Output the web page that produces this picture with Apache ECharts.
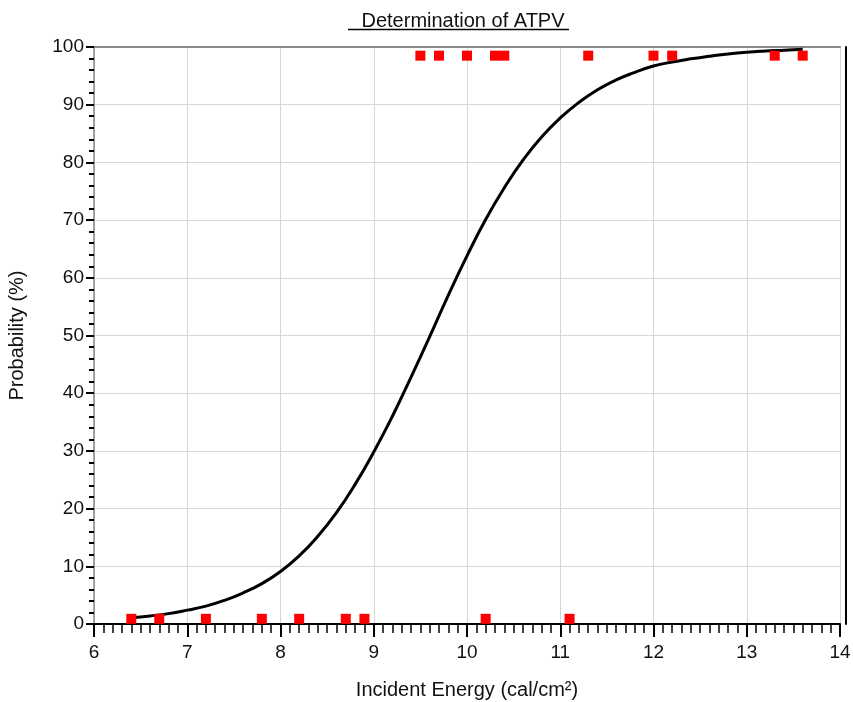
<!DOCTYPE html>
<html>
<head>
<meta charset="utf-8">
<script src="https://cdn.jsdelivr.net/npm/echarts@6/dist/echarts.min.js"></script>
<style>
  html, body { margin: 0; padding: 0; background: #fff; }
  #chart { width: 853px; height: 702px; }
</style>
</head>
<body>
<div id="chart"></div>
<script>
// test results: burned through (100) or not (0)
var failEnergy = [9.5, 9.7, 10.0, 10.3, 10.4, 11.3, 12.0, 12.2, 13.3, 13.6];
var passEnergy = [6.4, 6.7, 7.2, 7.8, 8.2, 8.7, 8.9, 10.2, 11.1];
var failLevel = 98.5;
var passLevel = 0.9;

// fitted curve
var curveX = [6.4, 6.6, 6.8, 7.0, 7.2, 7.4, 7.6, 7.8, 8.0, 8.2, 8.4, 8.6, 8.8, 9.0, 9.2, 9.4,
    9.6, 9.8, 10.0, 10.2, 10.4, 10.6, 10.8, 11.0, 11.2, 11.4, 11.6, 11.8, 12.0, 12.2, 12.4,
    12.6, 12.8, 13.0, 13.2, 13.4, 13.6];
var curveY = [1.1, 1.4, 1.8, 2.4, 3.1, 4.1, 5.4, 7.0, 9.1, 11.8, 15.2, 19.3, 24.2, 29.8, 36.0, 42.8,
    49.8, 57.0, 63.8, 70.1, 75.6, 80.4, 84.4, 87.7, 90.4, 92.6, 94.3, 95.6, 96.7, 97.4, 97.95,
    98.4, 98.8, 99.1, 99.3, 99.45, 99.6];

var font = 'Liberation Sans, Arial, sans-serif';

var pair = function (xs, ys) {
    return xs.map(function (x, i) {
        return [x, Array.isArray(ys) ? ys[i] : ys];
    });
};

var chart = echarts.init(document.getElementById('chart'));
var option = {
    animation: false,
    backgroundColor: '#fff',
    title: {
        text: 'Determination of ATPV',
        left: 458,
        textAlign: 'center',
        top: 6,
        textStyle: { fontFamily: font, fontSize: 20, fontWeight: 'normal', color: '#111' }
    },
    graphic: [{
        type: 'line',
        shape: { x1: 348, y1: 29.5, x2: 569, y2: 29.5 },
        style: { stroke: '#000', lineWidth: 1.5 }
    }],
    grid: { left: 94, right: 13, top: 47, bottom: 78, containLabel: false, outerBoundsMode: 'none' },
    xAxis: [{
        type: 'value',
        min: 6,
        max: 14,
        interval: 1,
        name: 'Incident Energy (cal/cm²)',
        nameLocation: 'middle',
        nameGap: 56,
        nameTextStyle: { fontFamily: font, fontSize: 20, color: '#111' },
        axisLine: { show: true, onZero: false, lineStyle: { color: '#000', width: 2 } },
        axisTick: { show: true, length: 13, lineStyle: { color: '#000', width: 2 } },
        minorTick: { show: true, splitNumber: 10, length: 9, lineStyle: { color: '#000', width: 1.5 } },
        axisLabel: { fontFamily: font, fontSize: 19, color: '#111', margin: 19 },
        splitLine: { show: true, lineStyle: { color: '#d6d6d6', width: 1 } }
    }, {
        type: 'value',
        position: 'top',
        min: 6,
        max: 14,
        axisLine: { show: true, onZero: false, lineStyle: { color: '#8a8a8a', width: 2 } },
        axisTick: { show: false },
        axisLabel: { show: false },
        splitLine: { show: false }
    }],
    yAxis: [{
        type: 'value',
        min: 0,
        max: 100,
        interval: 10,
        name: 'Probability (%)',
        nameLocation: 'middle',
        nameGap: 67,
        nameTextStyle: { fontFamily: font, fontSize: 20, color: '#111' },
        axisLine: { show: true, onZero: false, lineStyle: { color: '#8a8a8a', width: 1.5 } },
        axisTick: { show: true, length: 8, lineStyle: { color: '#000', width: 2 } },
        minorTick: { show: true, splitNumber: 5, length: 5, lineStyle: { color: '#000', width: 2 } },
        axisLabel: { fontFamily: font, fontSize: 19, color: '#111', margin: 10 },
        splitLine: { show: true, lineStyle: { color: '#d6d6d6', width: 1 } }
    }, {
        type: 'value',
        position: 'right',
        offset: 6,
        min: 0,
        max: 100,
        axisLine: { show: true, onZero: false, lineStyle: { color: '#000', width: 2 } },
        axisTick: { show: false },
        axisLabel: { show: false },
        splitLine: { show: false }
    }],
    series: [{
        name: 'Fit',
        type: 'line',
        smooth: 0.5,
        symbol: 'none',
        data: pair(curveX, curveY),
        lineStyle: { color: '#000', width: 3 },
        z: 2
    }, {
        name: 'Burn',
        type: 'scatter',
        symbol: 'rect',
        symbolSize: 10,
        data: pair(failEnergy, failLevel),
        itemStyle: { color: '#ff0000', opacity: 1 },
        z: 3
    }, {
        name: 'No burn',
        type: 'scatter',
        symbol: 'rect',
        symbolSize: 10,
        data: pair(passEnergy, passLevel),
        itemStyle: { color: '#ff0000', opacity: 1 },
        z: 3
    }]
};
chart.setOption(option);
</script>
</body>
</html>
